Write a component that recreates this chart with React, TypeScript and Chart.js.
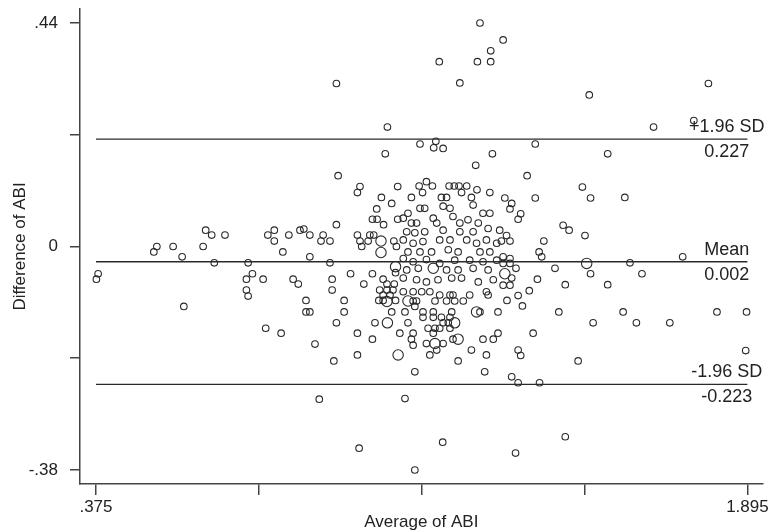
import React, { useEffect, useRef } from 'react';
import { Chart, registerables } from 'chart.js';

Chart.register(...registerables);

// Axis ticks (Stata-style: only some ticks labelled)
const xTickValues = [0.375, 0.755, 1.135, 1.515, 1.895];
const xTickLabels = ['.375', '', '', '', '1.895'];
const yTickValues = [0.44, 0.235, 0.03, -0.175, -0.38];
const yTickLabels = ['.44', '', '0', '', '-.38'];

// Bland-Altman reference values
const meanDiff = 0.002;
const upperLimit = 0.227;
const lowerLimit = -0.223;
const limitNames = ['+1.96 SD', 'Mean', '-1.96 SD'];
const limitValues = [upperLimit, meanDiff, lowerLimit];
const limitTexts = ['0.227', '0.002', '-0.223'];
const dataXMin = 0.375;
const dataXMax = 1.895;
const labelAnchorX = 1.847;

// [average of ABI, difference of ABI] — single observations
const singleObs: [number, number][] = [
  [0.376, -0.03], [0.38, -0.02], [0.51, 0.02], [0.517, 0.03], [0.555, 0.03], [0.576, 0.011], [0.58, -0.08],
  [0.625, 0.03], [0.631, 0.06], [0.645, 0.051], [0.651, 0.0], [0.676, 0.051], [0.73, 0.0], [0.74, -0.02],
  [0.726, -0.03], [0.726, -0.05], [0.73, -0.061], [0.765, -0.03], [0.771, -0.12], [0.776, 0.051], [0.791, 0.06],
  [0.791, 0.04], [0.811, 0.02], [0.807, -0.129], [0.825, 0.051], [0.835, -0.03], [0.847, -0.039], [0.851, 0.06],
  [0.936, 0.329], [1.055, 0.249], [1.05, 0.2], [0.94, 0.16], [0.991, 0.14], [0.985, 0.129], [1.079, 0.14],
  [1.041, 0.12], [1.065, 0.109], [1.03, 0.099], [1.02, 0.08], [1.031, 0.08], [1.046, 0.07], [1.079, 0.08],
  [0.936, 0.07], [0.86, 0.062], [0.874, 0.051], [0.905, 0.051], [0.9, 0.04], [0.921, 0.04], [0.985, 0.051],
  [0.991, 0.04], [0.995, 0.03], [1.014, 0.051], [1.023, 0.051], [1.01, 0.04], [1.07, 0.04], [1.076, 0.03],
  [0.874, 0.011], [0.921, 0.0], [0.969, -0.02], [1.02, -0.02], [1.074, -0.018], [0.926, -0.03], [0.926, -0.05],
  [1.0, -0.039], [1.045, -0.03], [1.054, -0.039], [1.071, -0.039], [1.037, -0.05], [1.054, -0.05], [1.068, -0.05],
  [1.045, -0.059], [1.061, -0.059], [1.035, -0.069], [1.045, -0.069], [1.074, -0.069], [0.865, -0.069],
  [0.954, -0.069], [0.865, -0.09], [0.874, -0.09], [0.954, -0.09], [1.065, -0.09], [0.936, -0.11], [1.026, -0.11],
  [0.985, -0.129], [1.084, -0.129], [1.02, -0.14], [0.886, -0.149], [0.985, -0.169], [0.93, -0.18], [0.896, -0.25],
  [0.989, -0.34],
  [1.271, 0.44], [1.296, 0.389], [1.176, 0.369], [1.265, 0.369], [1.296, 0.369], [1.224, 0.33], [1.131, 0.218],
  [1.168, 0.223], [1.163, 0.211], [1.185, 0.21], [1.3, 0.2], [1.261, 0.179], [1.129, 0.141], [1.146, 0.149],
  [1.16, 0.141], [1.199, 0.141], [1.211, 0.141], [1.222, 0.141], [1.24, 0.141], [1.264, 0.134],
  [1.111, 0.12], [1.137, 0.129], [1.181, 0.12], [1.193, 0.12], [1.228, 0.129], [1.251, 0.12], [1.294, 0.129],
  [1.103, 0.091], [1.131, 0.1], [1.142, 0.1], [1.185, 0.104], [1.201, 0.1], [1.255, 0.106], [1.278, 0.091],
  [1.294, 0.091], [1.092, 0.082], [1.111, 0.073], [1.123, 0.073], [1.162, 0.082], [1.17, 0.073], [1.208, 0.085],
  [1.224, 0.073], [1.243, 0.079], [1.267, 0.073], [1.1, 0.057], [1.119, 0.055], [1.142, 0.057], [1.185, 0.06],
  [1.224, 0.057], [1.255, 0.057], [1.29, 0.063], [1.092, 0.042], [1.115, 0.036], [1.138, 0.039], [1.177, 0.042],
  [1.201, 0.042], [1.24, 0.042], [1.263, 0.036], [1.286, 0.042], [1.31, 0.036], [1.103, 0.02], [1.131, 0.02],
  [1.158, 0.02], [1.197, 0.024], [1.22, 0.02], [1.271, 0.02], [1.294, 0.02], [1.092, 0.008], [1.115, 0.002],
  [1.146, 0.006], [1.177, -0.001], [1.212, 0.005], [1.247, 0.005], [1.278, 0.002], [1.31, 0.005],
  [1.1, -0.013], [1.127, -0.01], [1.193, -0.013], [1.22, -0.013], [1.255, -0.01], [1.29, -0.013],
  [1.092, -0.028], [1.123, -0.031], [1.146, -0.035], [1.173, -0.031], [1.205, -0.028], [1.228, -0.028],
  [1.267, -0.035], [1.302, -0.031], [1.092, -0.053], [1.115, -0.053], [1.135, -0.053], [1.154, -0.053],
  [1.177, -0.059], [1.201, -0.059], [1.208, -0.059], [1.247, -0.059], [1.286, -0.053], [1.29, -0.059],
  [1.115, -0.07], [1.123, -0.07], [1.166, -0.07], [1.193, -0.07], [1.212, -0.07], [1.232, -0.07],
  [1.096, -0.09], [1.119, -0.08], [1.138, -0.09], [1.162, -0.09], [1.205, -0.09], [1.271, -0.09], [1.313, -0.09],
  [1.103, -0.11], [1.138, -0.1], [1.162, -0.1], [1.181, -0.1], [1.201, -0.1], [1.185, -0.11], [1.197, -0.11],
  [1.115, -0.129], [1.15, -0.12], [1.166, -0.12], [1.177, -0.12], [1.201, -0.12], [1.162, -0.129],
  [1.111, -0.14], [1.115, -0.151], [1.146, -0.148], [1.185, -0.148], [1.208, -0.14], [1.278, -0.14],
  [1.302, -0.14], [1.313, -0.129], [1.17, -0.16], [1.154, -0.169], [1.251, -0.16], [1.286, -0.169],
  [1.22, -0.18], [1.119, -0.2], [1.282, -0.2], [1.096, -0.249], [1.184, -0.329], [1.119, -0.38],
  [1.325, 0.409], [1.526, 0.308], [1.4, 0.218], [1.569, 0.2], [1.381, 0.16], [1.51, 0.139], [1.329, 0.119],
  [1.345, 0.109], [1.341, 0.099], [1.4, 0.119], [1.529, 0.119], [1.366, 0.09], [1.36, 0.08], [1.465, 0.069],
  [1.479, 0.06], [1.516, 0.05], [1.317, 0.06], [1.333, 0.05], [1.321, 0.04], [1.341, 0.04], [1.42, 0.04],
  [1.409, 0.02], [1.415, 0.011], [1.325, 0.011], [1.341, 0.008],
  [1.325, -0.001], [1.341, -0.001], [1.355, -0.01], [1.446, -0.01], [1.345, -0.028], [1.325, -0.041],
  [1.341, -0.041], [1.405, -0.03], [1.529, -0.02], [1.47, -0.04], [1.569, -0.04], [1.386, -0.051],
  [1.36, -0.06], [1.334, -0.069], [1.37, -0.079], [1.455, -0.09], [1.535, -0.11], [1.395, -0.129],
  [1.36, -0.16], [1.366, -0.17], [1.5, -0.18], [1.345, -0.209], [1.36, -0.22], [1.41, -0.22], [1.47, -0.319],
  [1.354, -0.349],
  [1.804, 0.329], [1.676, 0.249], [1.77, 0.261], [1.609, 0.12], [1.621, 0.0], [1.744, 0.011], [1.649, -0.02],
  [1.605, -0.09], [1.636, -0.11], [1.714, -0.11], [1.824, -0.09], [1.893, -0.09], [1.891, -0.161],
];

// Tied (repeated) observations drawn with bigger markers
const tiedObs: [number, number][] = [
  [1.04, 0.04], [1.04, 0.019], [1.074, -0.007], [1.054, -0.071], [1.055, -0.11], [1.08, -0.169],
  [1.162, -0.01], [1.103, -0.07], [1.263, -0.09], [1.212, -0.11], [1.166, -0.148], [1.22, -0.14],
  [1.52, -0.001], [1.329, -0.02],
];

const FONT = '"Liberation Sans", Arial, Helvetica, sans-serif';
const INK = '#2a2a2a';

const refLinesPlugin = {
  id: 'refLines',
  beforeDatasetsDraw(chart: any) {
    const { ctx, scales } = chart;
    const xs = scales.x;
    const ys = scales.y;
    ctx.save();
    ctx.strokeStyle = INK;
    ctx.lineWidth = 1.4;
    limitValues.forEach((v) => {
      const py = ys.getPixelForValue(v);
      ctx.beginPath();
      ctx.moveTo(xs.getPixelForValue(dataXMin), py);
      ctx.lineTo(xs.getPixelForValue(dataXMax), py);
      ctx.stroke();
    });
    ctx.restore();
  },
  afterDatasetsDraw(chart: any) {
    const { ctx, scales } = chart;
    const xs = scales.x;
    const ys = scales.y;
    ctx.save();
    ctx.fillStyle = '#222';
    ctx.font = `18px ${FONT}`;
    ctx.textAlign = 'center';
    ctx.textBaseline = 'middle';
    const lx = xs.getPixelForValue(labelAnchorX);
    limitValues.forEach((v, i) => {
      const py = ys.getPixelForValue(v);
      ctx.fillText(limitNames[i], lx, py - 12);
      ctx.fillText(limitTexts[i], lx, py + 13);
    });
    ctx.restore();
  },
};

export default function App() {
  const canvasRef = useRef<HTMLCanvasElement | null>(null);

  useEffect(() => {
    if (!canvasRef.current) return;
    const markerBase = {
      backgroundColor: 'rgba(0,0,0,0)',
      borderColor: INK,
      borderWidth: 1.1,
      pointStyle: 'circle',
    };
    const chart = new Chart(canvasRef.current, {
      type: 'scatter',
      data: {
        datasets: [
          {
            label: 'Single',
            data: singleObs.map(([x, y]) => ({ x, y })),
            ...markerBase,
            pointRadius: 3.3,
          },
          {
            label: 'Tied',
            data: tiedObs.map(([x, y]) => ({ x, y })),
            ...markerBase,
            pointRadius: 5.2,
          },
        ],
      },
      options: {
        animation: false,
        responsive: false,
        events: [],
        layout: { padding: { top: 9, right: 6, left: 0, bottom: 0 } },
        plugins: {
          legend: { display: false },
          tooltip: { enabled: false },
        },
        scales: {
          x: {
            type: 'linear',
            min: 0.3377,
            max: 1.9307,
            afterBuildTicks: (s: any) => {
              s.ticks = xTickValues.map((v) => ({ value: v }));
            },
            afterFit: (s: any) => {
              s.height = 46;
              s.paddingLeft = 0;
              s.paddingRight = 0;
            },
            border: { display: true, color: '#444', width: 1.5 },
            grid: {
              display: true,
              drawOnChartArea: false,
              drawTicks: true,
              tickLength: 11,
              color: '#444',
              lineWidth: 1.5,
            },
            ticks: {
              autoSkip: false,
              maxRotation: 0,
              padding: 2,
              color: '#222',
              font: { family: FONT, size: 17 },
              callback: (_v: any, i: number) => xTickLabels[i],
            },
            title: {
              display: true,
              text: 'Average of ABI',
              color: '#222',
              font: { family: FONT, size: 17 },
              padding: { top: 0, bottom: -3 },
            },
          },
          y: {
            type: 'linear',
            min: -0.4057,
            max: 0.4657,
            afterBuildTicks: (s: any) => {
              s.ticks = yTickValues.map((v) => ({ value: v }));
            },
            afterFit: (s: any) => {
              s.width = 80;
              s.paddingTop = 0;
              s.paddingBottom = 0;
            },
            border: { display: true, color: '#444', width: 1.5 },
            grid: {
              display: true,
              drawOnChartArea: false,
              drawTicks: true,
              tickLength: 10,
              color: '#444',
              lineWidth: 1.5,
            },
            ticks: {
              autoSkip: false,
              padding: 12,
              color: '#222',
              font: { family: FONT, size: 17 },
              callback: (_v: any, i: number) => yTickLabels[i],
            },
            title: {
              display: true,
              text: 'Difference of ABI',
              color: '#222',
              font: { family: FONT, size: 17 },
              padding: { top: 10, bottom: 0 },
            },
          },
        },
      },
      plugins: [refLinesPlugin],
    } as any);
    return () => chart.destroy();
  }, []);

  return (
    <div
      style={{
        position: 'fixed',
        left: 0,
        top: 0,
        width: 769,
        height: 530,
        background: '#ffffff',
      }}
    >
      <canvas ref={canvasRef} width={769} height={530} style={{ display: 'block' }} />
    </div>
  );
}
